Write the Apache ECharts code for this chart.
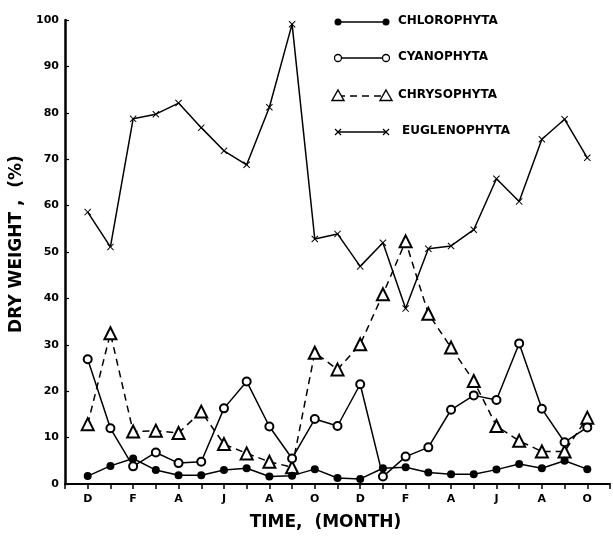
<!DOCTYPE html>
<html>
<head>
<meta charset="utf-8">
<script src="https://cdn.jsdelivr.net/npm/echarts@6/dist/echarts.min.js"></script>
<style>
html,body{margin:0;padding:0;background:#fff;}
#chart{width:613px;height:536px;}
</style>
</head>
<body>
<div id="chart"></div>
<script>
// Month tick labels (every second month, starting at December)
const monthLabels = ['D','F','A','J','A','O','D','F','A','J','A','O'];
// Monthly samples (index 0 = D ... index 22 = O)
const chlorophyta  = [1.7, 3.9, 5.5, 3.0, 1.9, 1.9, 3.0, 3.4, 1.6, 1.8, 3.2, 1.3, 1.1, 3.4, 3.6, 2.5, 2.1, 2.1, 3.1, 4.3, 3.4, 5.0, 3.2];
const cyanophyta   = [26.9, 12.0, 3.8, 6.8, 4.5, 4.8, 16.3, 22.1, 12.4, 5.5, 14.0, 12.5, 21.5, 1.6, 5.9, 7.9, 16.0, 19.1, 18.1, 30.3, 16.2, 9.0, 12.2];
const chrysophyta  = [12.9, 32.5, 11.3, 11.5, 11.0, 15.6, 8.6, 6.6, 4.8, 3.6, 28.3, 24.7, 30.1, 40.9, 52.3, 36.7, 29.4, 22.2, 12.5, 9.3, 7.0, 7.0, 14.3];
const euglenophyta = [58.6, 51.1, 78.7, 79.7, 82.1, 76.8, 71.8, 68.8, 81.2, 99.1, 52.8, 53.9, 46.9, 52.0, 37.8, 50.7, 51.3, 54.8, 65.8, 60.9, 74.3, 78.6, 70.3];
const seriesNames = ['CHLOROPHYTA','CYANOPHYTA','CHRYSOPHYTA','EUGLENOPHYTA'];

const toPts = arr => arr.map((v, i) => [i, v]);
const crossPath = 'path://M0,1L1,0L5,4L9,0L10,1L6,5L10,9L9,10L5,6L1,10L0,9L4,5Z';
const font = 'DejaVu Sans';

const chart = echarts.init(document.getElementById('chart'), null, {renderer: 'canvas'});

const legendY = [22, 58, 96, 132];
const lx1 = 338, lx2 = 386, ltx = 398;
const legendGraphics = [];
function addText(y, txt, x) {
  legendGraphics.push({type:'text', left: x, top: y - 7, style:{text: txt, fill:'#000', font:'bold 12px "' + font + '"'}});
}
// Chlorophyta
legendGraphics.push({type:'line', shape:{x1:lx1,y1:legendY[0],x2:lx2,y2:legendY[0]}, style:{stroke:'#000', lineWidth:1.5}});
legendGraphics.push({type:'circle', shape:{cx:lx1,cy:legendY[0],r:3.5}, style:{fill:'#000'}});
legendGraphics.push({type:'circle', shape:{cx:lx2,cy:legendY[0],r:3.5}, style:{fill:'#000'}});
addText(legendY[0], seriesNames[0], ltx);
// Cyanophyta
legendGraphics.push({type:'line', shape:{x1:lx1,y1:legendY[1],x2:lx2,y2:legendY[1]}, style:{stroke:'#000', lineWidth:1.5}});
legendGraphics.push({type:'circle', z:5, shape:{cx:lx1,cy:legendY[1],r:3.5}, style:{fill:'#fff', stroke:'#000', lineWidth:1.3}});
legendGraphics.push({type:'circle', z:5, shape:{cx:lx2,cy:legendY[1],r:3.5}, style:{fill:'#fff', stroke:'#000', lineWidth:1.3}});
addText(legendY[1], seriesNames[1], ltx);
// Chrysophyta
legendGraphics.push({type:'line', shape:{x1:lx1,y1:legendY[2],x2:lx2,y2:legendY[2]}, style:{stroke:'#000', lineWidth:1.5, lineDash:[7,5]}});
[lx1, lx2].forEach(cx => legendGraphics.push({type:'polygon', z:5, shape:{points:[[cx,legendY[2]-6],[cx+6,legendY[2]+4.5],[cx-6,legendY[2]+4.5]]}, style:{fill:'#fff', stroke:'#000', lineWidth:1.4}}));
addText(legendY[2], seriesNames[2], ltx);
// Euglenophyta
legendGraphics.push({type:'line', shape:{x1:lx1,y1:legendY[3],x2:lx2,y2:legendY[3]}, style:{stroke:'#000', lineWidth:1.5}});
[lx1, lx2].forEach(cx => {
  legendGraphics.push({type:'line', shape:{x1:cx-3,y1:legendY[3]-3,x2:cx+3,y2:legendY[3]+3}, style:{stroke:'#000', lineWidth:1.3}});
  legendGraphics.push({type:'line', shape:{x1:cx-3,y1:legendY[3]+3,x2:cx+3,y2:legendY[3]-3}, style:{stroke:'#000', lineWidth:1.3}});
});
addText(legendY[3], seriesNames[3], ltx + 4);

const option = {
  backgroundColor: '#fff',
  animation: false,
  grid: {left: 65, right: 0, top: 20, bottom: 52},
  xAxis: {
    type: 'value', min: -1, max: 23, interval: 1,
    name: 'TIME,  (MONTH)', nameLocation: 'middle', nameGap: 30,
    nameTextStyle: {fontFamily: font, fontSize: 17, fontWeight: 'bold', color: '#000', padding: [0, 24, 0, 0]},
    axisLine: {onZero: false, lineStyle: {color: '#000', width: 2}},
    axisTick: {show: true, inside: false, length: 5, lineStyle: {color: '#000', width: 1.5}},
    axisLabel: {
      color: '#000', fontFamily: font, fontSize: 11, fontWeight: 'bold', margin: 10,
      formatter: v => (v >= 0 && v % 2 === 0 && v / 2 < monthLabels.length) ? monthLabels[v / 2] : ''
    },
    splitLine: {show: false}
  },
  yAxis: {
    type: 'value', min: 0, max: 100, interval: 10,
    name: 'DRY WEIGHT ,  (%)', nameLocation: 'middle', nameGap: 37,
    nameTextStyle: {fontFamily: font, fontSize: 17, fontWeight: 'bold', color: '#000', padding: [0, 0, 0, 16]},
    axisLine: {show: true, onZero: false, lineStyle: {color: '#000', width: 2.5}},
    axisTick: {show: true, inside: true, length: 4, lineStyle: {color: '#000', width: 1.2}},
    axisLabel: {color: '#000', fontFamily: font, fontSize: 11, fontWeight: 'bold', margin: 6},
    splitLine: {show: false}
  },
  graphic: legendGraphics,
  series: [
    {
      name: seriesNames[3], type: 'line', data: toPts(euglenophyta),
      symbol: crossPath, symbolSize: 7,
      itemStyle: {color: '#000'},
      lineStyle: {color: '#000', width: 1.5}, z: 2
    },
    {
      name: seriesNames[2], type: 'line', data: toPts(chrysophyta),
      symbol: 'emptyTriangle', symbolSize: 12,
      itemStyle: {color: '#000', borderWidth: 1.4},
      lineStyle: {color: '#000', width: 1.5, type: [7, 5]}, z: 3
    },
    {
      name: seriesNames[1], type: 'line', data: toPts(cyanophyta),
      symbol: 'emptyCircle', symbolSize: 8,
      itemStyle: {color: '#000', borderWidth: 1.3},
      lineStyle: {color: '#000', width: 1.5}, z: 4
    },
    {
      name: seriesNames[0], type: 'line', data: toPts(chlorophyta),
      symbol: 'circle', symbolSize: 8,
      itemStyle: {color: '#000'},
      lineStyle: {color: '#000', width: 1.5}, z: 5
    }
  ]
};
chart.setOption(option);
</script>
</body>
</html>
